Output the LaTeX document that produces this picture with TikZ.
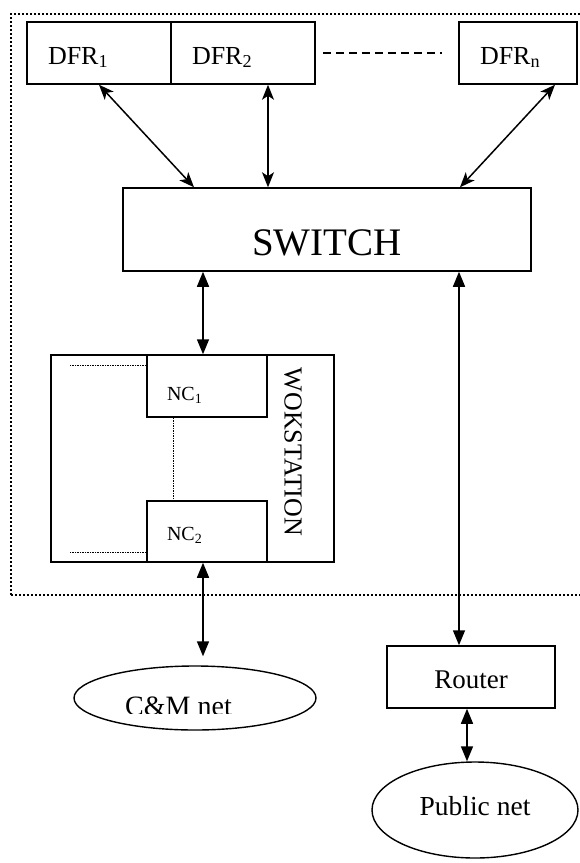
\documentclass[tikz,border=0pt]{standalone}
\usepackage{fontspec}
\setmainfont{Liberation Serif}
\usetikzlibrary{arrows.meta,shapes.geometric}
\tikzset{
  box/.style={draw, line width=1.5pt, rectangle, inner sep=0pt},
  dfrbox/.style={box, minimum height=62pt, align=left, inner xsep=21pt,
    text height=22pt, text depth=0pt, font=\fontsize{26}{30}\selectfont},
  ncbox/.style={box, minimum width=120pt, align=left, inner xsep=20pt,
    text width=80pt, text depth=0pt, font=\fontsize{20}{24}\selectfont},
  oval/.style={draw, line width=1.4pt, ellipse, inner sep=0pt},
  dbltop/.style={line width=1.5pt, {Stealth[length=15pt,width=12pt,inset=4pt]}-{Stealth[length=15pt,width=12pt,inset=4pt]}},
  dblbot/.style={line width=1.5pt, {Triangle[length=15pt,width=12pt]}-{Triangle[length=15pt,width=12pt]}},
  frame/.style={line width=2.3pt, dash pattern=on 2pt off 2pt},
  thindot/.style={line width=0.9pt, dash pattern=on 1.5pt off 1pt},
}
\begin{document}
\begin{tikzpicture}[x=1pt,y=-1pt]
\useasboundingbox (0,0) rectangle (579,863);
% outer dotted frame
\draw[frame] (11,595) -- (11,14) -- (600,14);
\draw[frame] (11,595) -- (600,595);
% DFR boxes
\node[dfrbox, minimum width=144pt, text width=102pt] (d1) at (99,53) {DFR\textsubscript{1}};
\node[dfrbox, minimum width=144pt, text width=102pt] (d2) at (243,53) {DFR\textsubscript{2}};
\node[dfrbox, minimum width=118pt, text width=76pt] (dn) at (518,53) {DFR\textsubscript{n}};
\draw[line width=1.4pt, dash pattern=on 8pt off 5pt] ([xshift=7pt]d2.east) -- ([xshift=-16pt]dn.west);
% switch
\node[box, minimum width=408pt, minimum height=83pt, text height=51pt, text depth=0pt,
  font=\fontsize{39}{44}\selectfont] (sw) at (327,229.5) {SWITCH};
\draw[dbltop] (d1.south) -- ([xshift=-133pt]sw.north);
\draw[dbltop] ([xshift=25pt]d2.south) -- ([xshift=-59pt]sw.north);
\draw[dbltop] ([xshift=37pt]dn.south) -- ([xshift=133pt]sw.north);
% workstation
\node[box, minimum width=283pt, minimum height=207pt] (ws) at (192.5,458.5) {};
\node[ncbox, minimum height=62pt, text height=28pt] (nc1) at (207,386) {NC\textsubscript{1}};
\node[ncbox, minimum height=61pt, text height=18pt] (nc2) at (207,531.5) {NC\textsubscript{2}};
\node[rotate=-90, inner sep=0pt, font=\fontsize{26}{30}\selectfont] (wst) at (293,452) {WOKSTATION};
\draw[thindot] ([yshift=-11pt]nc1.north west) -- ([xshift=-76pt,yshift=-11pt]nc1.north west);
\draw[thindot] ([yshift=10pt]nc2.south west) -- ([xshift=-76pt,yshift=10pt]nc2.south west);
\draw[thindot] ([xshift=-34pt]nc1.south) -- ([xshift=-34pt]nc2.north);
\draw[dblbot] ([xshift=-124pt]sw.south) -- ([xshift=-4pt]nc1.north);
% C&M net
\node[oval, minimum width=242pt, minimum height=64pt] (cm) at (195,698) {};
\begin{scope}
  \clip (0,600) rectangle (579,713);
  \node[anchor=base, inner sep=0pt, font=\fontsize{28}{32}\selectfont] (cmt) at (178.5,715.5) {C\&M net};
\end{scope}
\draw[dblbot] ([xshift=-4pt]nc2.south) -- ([xshift=8pt,yshift=9pt]cm.north);
% router
\node[box, minimum width=168pt, minimum height=62pt, text height=22pt, text depth=0pt,
  font=\fontsize{27}{32}\selectfont] (rt) at (471,677) {Router};
\draw[dblbot] ([xshift=132pt]sw.south) -- ([xshift=-12pt]rt.north);
% public net
\node[oval, minimum width=206pt, minimum height=96pt, text height=10pt, text depth=0pt,
  font=\fontsize{27.5}{32}\selectfont] (pn) at (475,810) {Public net};
\draw[dblbot] ([xshift=-4pt]rt.south) -- ([xshift=-8pt]pn.north);
\end{tikzpicture}
\end{document}
